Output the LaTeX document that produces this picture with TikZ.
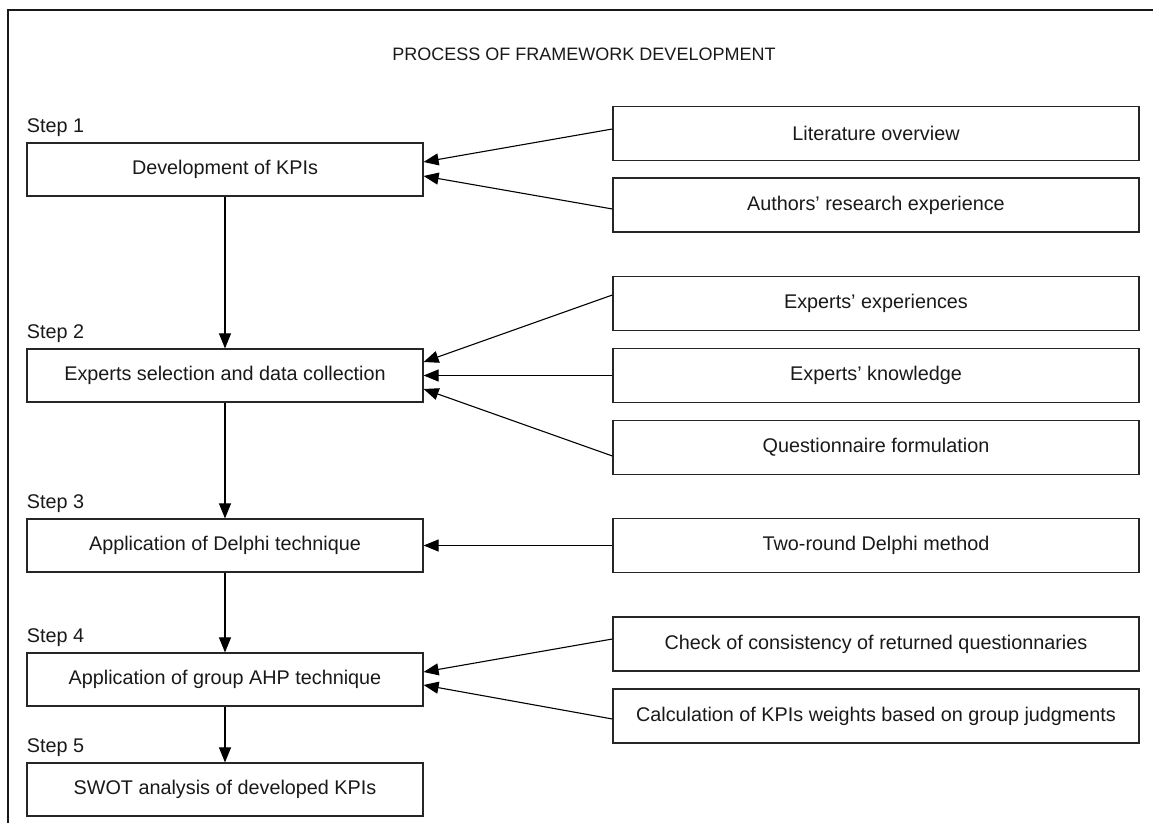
\documentclass[tikz,border=0pt]{standalone}
\usepackage{fontspec}
\setmainfont{Liberation Sans}
\usepackage{tikz}
\usetikzlibrary{arrows.meta,positioning}
\tikzset{
	->,
	>={Triangle[length=7.5pt,width=6pt]},
	stepbox/.style={draw=black!85, line width=0.6pt, minimum width=198pt, minimum height=26.5pt, inner sep=0pt, font=\fontsize{9.9}{12}\selectfont, text=black!90},
	srcbox/.style={stepbox, minimum width=263pt, minimum height=27pt},
	steplabel/.style={anchor=base west, inner sep=0pt, font=\fontsize{9.9}{12}\selectfont, text=black!90},
	frame/.style={-, line width=0.8pt, black!90},
}

\begin{document}
\begin{tikzpicture}[x=0.5pt, y=-0.5pt, line width=0.55pt]
		\useasboundingbox (0,0) rectangle (1153,823);
		\draw[frame] (1153,10) -- (8,10) -- (8,823);

		\node[inner sep=0pt, font=\fontsize{9}{11}\selectfont, text=black!90] (title) at (584,54) {PROCESS OF FRAMEWORK DEVELOPMENT};

		% the five steps
		\node[stepbox] (s1) at (225,169.5) {Development of KPIs};
		\node[stepbox] (s2) at (225,375.5) {Experts selection and data collection};
		\node[stepbox] (s3) at (225,545.5) {Application of Delphi technique};
		\node[stepbox] (s4) at (225,679.5) {Application of group AHP technique};
		\node[stepbox] (s5) at (225,789.5) {SWOT analysis of developed KPIs};

		\node[steplabel] (l1) at ([yshift=5pt]s1.north west) {Step 1};
		\node[steplabel] (l2) at ([yshift=5pt]s2.north west) {Step 2};
		\node[steplabel] (l3) at ([yshift=5pt]s3.north west) {Step 3};
		\node[steplabel] (l4) at ([yshift=5pt]s4.north west) {Step 4};
		\node[steplabel] (l5) at ([yshift=5pt]s5.north west) {Step 5};

		% inputs on the right
		\node[srcbox] (lit) at (876,133.5) {Literature overview};
		\node[srcbox] (auth) at (876,205) {Authors’ research experience};
		\node[srcbox] (expx) at (876,303.5) {Experts’ experiences};
		\node[srcbox] (expk) at (876,375.5) {Experts’ knowledge};
		\node[srcbox] (ques) at (876,447.5) {Questionnaire formulation};
		\node[srcbox] (delph) at (876,545.5) {Two-round Delphi method};
		\node[srcbox] (check) at (876,644) {Check of consistency of returned questionnaries};
		\node[srcbox] (calc) at (876,716) {Calculation of KPIs weights based on group judgments};

		\path (s1) edge (s2)
		(s2) edge (s3)
		(s3) edge (s4)
		(s4) edge (s5);

		\path ([yshift=2.25pt]lit.west) edge ([yshift=3.75pt]s1.east)
		([yshift=-2pt]auth.west) edge ([yshift=-3.25pt]s1.east)
		([yshift=4.25pt]expx.west) edge ([yshift=6.75pt]s2.east)
		(expk.west) edge (s2.east)
		([yshift=-4.25pt]ques.west) edge ([yshift=-6.75pt]s2.east)
		(delph.west) edge (s3.east)
		([yshift=2.5pt]check.west) edge ([yshift=3.75pt]s4.east)
		([yshift=-1.5pt]calc.west) edge ([yshift=-2.75pt]s4.east);
	\end{tikzpicture}
\end{document}
